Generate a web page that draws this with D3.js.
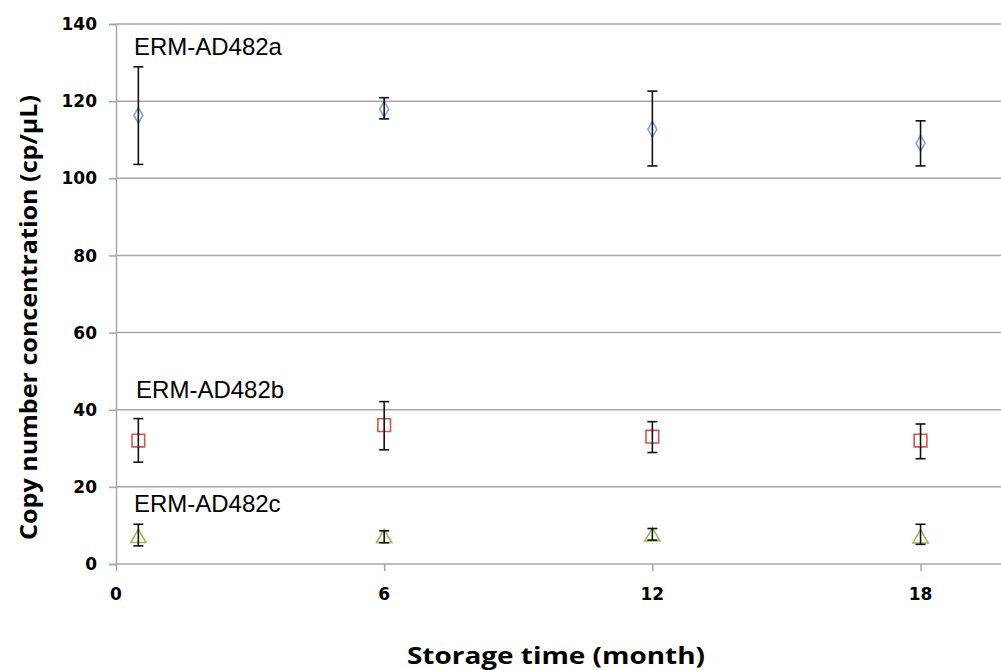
<!DOCTYPE html>
<html>
<head>
<meta charset="utf-8">
<script src="https://cdn.jsdelivr.net/npm/d3@7"></script>
<style>
  html, body { margin: 0; padding: 0; background: #fff; }
  #app { width: 1001px; height: 670px; }
  .tick-label { font-family: "DejaVu Sans", Verdana, sans-serif; font-weight: bold; font-size: 17px; fill: #000; }
  .axis-title { font-family: "Open Sans", sans-serif; font-weight: bold; font-size: 24px; fill: #000; }
  .series-label { font-family: "Liberation Sans", Arial, sans-serif; font-size: 24px; fill: #000; }
</style>
</head>
<body>
<div id="app"></div>
<script>
// storage time (months)
const months = [0.5, 6, 12, 18]

// ERM-AD482a
const aMean = [116.3, 117.9, 112.7, 109.1]
const aLow  = [103.6, 115.4, 103.2, 103.2]
const aHigh = [128.9, 120.9, 122.6, 114.9]

// ERM-AD482b
const bMean = [32.0, 36.0, 33.0, 32.0]
const bLow  = [26.4, 29.6, 28.9, 27.3]
const bHigh = [37.7, 42.1, 36.9, 36.3]

// ERM-AD482c
const cMean = [6.7, 6.7, 7.1, 6.6]
const cLow  = [4.7, 5.5, 6.2, 5.1]
const cHigh = [10.3, 8.6, 9.2, 10.3]

const xTicks = [0, 6, 12, 18]
const yTicks = [0, 20, 40, 60, 80, 100, 120, 140]

const seriesNames = ["ERM-AD482a", "ERM-AD482b", "ERM-AD482c"]
// where the names sit (month, value)
const labelPos = [[0.4, 132], [0.45, 43], [0.4, 13.5]]

const width = 1001
const height = 670
const margin = { left: 116, top: 24, right: 0, bottom: 106 }

const svg = d3.select('#app')
  .append('svg')
  .attr('width', width)
  .attr('height', height)

const x = d3.scaleLinear()
  .domain([0, 19.8])
  .range([margin.left, width - margin.right])

const y = d3.scaleLinear()
  .domain([0, 140])
  .range([height - margin.bottom, margin.top])

const gridColor = "#a6a6a6"

// horizontal gridlines
svg.append("g")
  .selectAll("line")
  .data(yTicks.filter(d => d > 0))
  .join("line")
  .attr("x1", x(0))
  .attr("x2", width)
  .attr("y1", d => y(d))
  .attr("y2", d => y(d))
  .attr("stroke", gridColor)
  .attr("stroke-width", 1.5)

// y axis
const yAxis = svg.append("g")
  .attr("transform", `translate(${x(0)},0)`)
  .call(d3.axisLeft(y).tickValues(yTicks).tickSize(7).tickFormat(""))
yAxis.select(".domain").attr("stroke", gridColor).attr("stroke-width", 1.5)
yAxis.selectAll(".tick line").attr("stroke", gridColor).attr("stroke-width", 1.5)

// x axis
const xAxis = svg.append("g")
  .attr("transform", `translate(0,${y(0)})`)
  .call(d3.axisBottom(x).tickValues(xTicks).tickSize(7).tickFormat(""))
xAxis.select(".domain").attr("stroke", gridColor).attr("stroke-width", 1.5)
  .attr("d", `M${x(0)},0H${width}`)
xAxis.selectAll(".tick line").attr("stroke", gridColor).attr("stroke-width", 1.5)

// tick labels
svg.append("g")
  .selectAll("text")
  .data(yTicks)
  .join("text")
  .attr("class", "tick-label")
  .attr("x", 97)
  .attr("y", d => y(d))
  .attr("dy", "0.36em")
  .attr("text-anchor", "end")
  .text(d => d)

svg.append("g")
  .selectAll("text")
  .data(xTicks)
  .join("text")
  .attr("class", "tick-label")
  .attr("x", d => x(d))
  .attr("y", 600)
  .attr("text-anchor", "middle")
  .text(d => d)

// axis titles
svg.append("text")
  .attr("class", "axis-title")
  .attr("transform", `translate(37,${(95 + 540) / 2}) rotate(-90)`)
  .attr("text-anchor", "middle")
  .attr("textLength", 445)
  .attr("lengthAdjust", "spacingAndGlyphs")
  .text("Copy number concentration (cp/µL)")

svg.append("text")
  .attr("class", "axis-title")
  .attr("x", 556)
  .attr("y", 664)
  .attr("text-anchor", "middle")
  .attr("textLength", 298)
  .attr("lengthAdjust", "spacingAndGlyphs")
  .text("Storage time (month)")

const series = [
  { mean: aMean, low: aLow, high: aHigh, shape: d3.symbolDiamond, color: "#7ea6d8", size: 70 },
  { mean: bMean, low: bLow, high: bHigh, shape: d3.symbolSquare, color: "#d9534f", size: 160 },
  { mean: cMean, low: cLow, high: cHigh, shape: d3.symbolTriangle, color: "#9bbb59", size: 100 }
]

series.forEach((s, si) => {
  const pts = months.map((m, i) => ({ m, v: s.mean[i], lo: s.low[i], hi: s.high[i] }))
  const g = svg.append("g")

  // markers first, then error bars on top
  g.selectAll("path.mark")
    .data(pts)
    .join("path")
    .attr("class", "mark")
    .attr("transform", d => `translate(${x(d.m)},${y(d.v)})`)
    .attr("d", d3.symbol().type(s.shape).size(s.size))
    .attr("fill", "none")
    .attr("stroke", s.color)
    .attr("stroke-width", 1.6)

  const eb = g.selectAll("g.err")
    .data(pts)
    .join("g")
    .attr("class", "err")
    .attr("stroke", "#111")
    .attr("stroke-width", 1.6)

  eb.append("line")
    .attr("x1", d => x(d.m)).attr("x2", d => x(d.m))
    .attr("y1", d => y(d.lo)).attr("y2", d => y(d.hi))
  eb.append("line")
    .attr("x1", d => x(d.m) - 5).attr("x2", d => x(d.m) + 5)
    .attr("y1", d => y(d.hi)).attr("y2", d => y(d.hi))
  eb.append("line")
    .attr("x1", d => x(d.m) - 5).attr("x2", d => x(d.m) + 5)
    .attr("y1", d => y(d.lo)).attr("y2", d => y(d.lo))

  svg.append("text")
    .attr("class", "series-label")
    .attr("x", x(labelPos[si][0]))
    .attr("y", y(labelPos[si][1]))
    .text(seriesNames[si])
})
</script>
</body>
</html>
